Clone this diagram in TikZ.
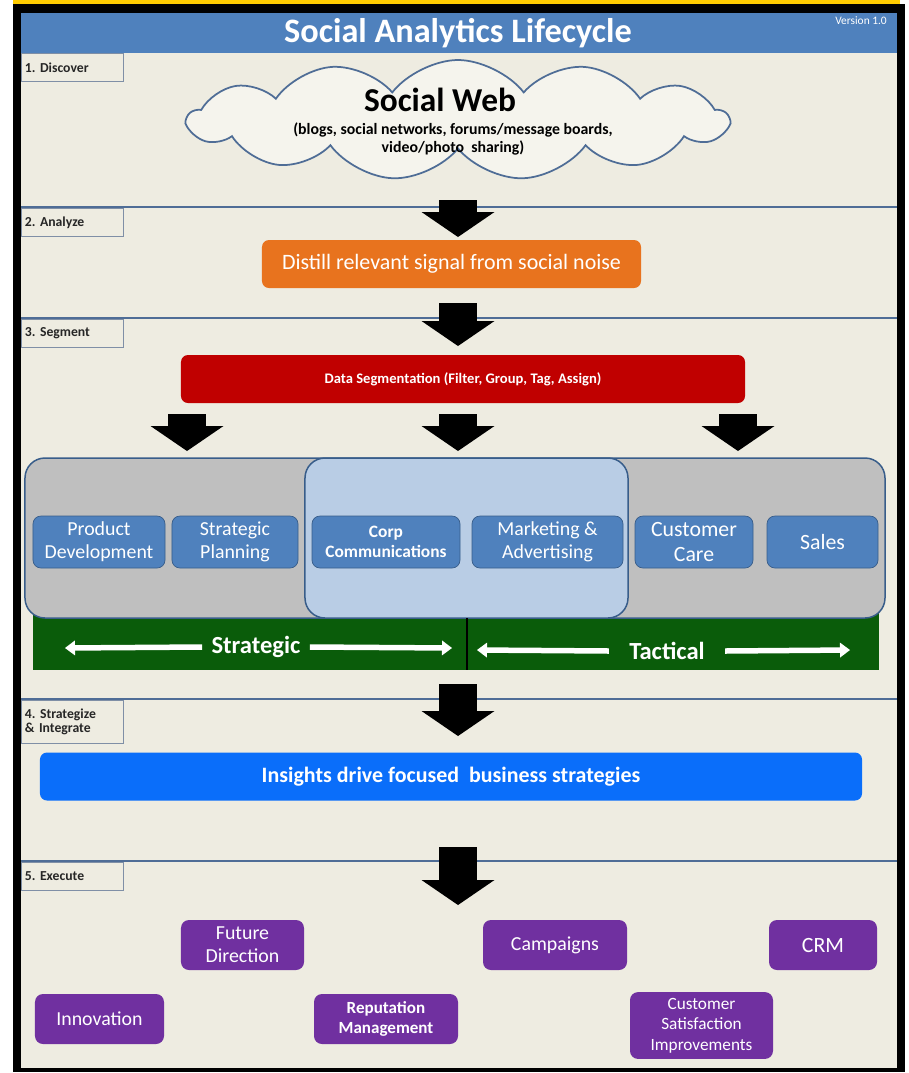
\documentclass[tikz,border=0pt]{standalone}
\usepackage{fontspec}
\setmainfont{Carlito}
\usetikzlibrary{shapes.symbols,arrows.meta}

\definecolor{titleblue}{HTML}{4F81BD}
\definecolor{bgbeige}{HTML}{EEECE1}
\definecolor{sectline}{HTML}{4F6D96}
\definecolor{labelline}{HTML}{7F8FA6}
\definecolor{distillorange}{HTML}{E8731E}
\definecolor{segred}{HTML}{C00000}
\definecolor{groupgray}{HTML}{BFBFBF}
\definecolor{grouplight}{HTML}{B9CDE5}
\definecolor{deptblue}{HTML}{4F81BD}
\definecolor{deptline}{HTML}{385D8A}
\definecolor{bargreen}{HTML}{0A5C0A}
\definecolor{insightblue}{HTML}{0A6EFA}
\definecolor{execpurple}{HTML}{7030A0}
\definecolor{goldline}{HTML}{FFCC00}

\tikzset{
  steplabel/.style={draw=labelline, fill=bgbeige, anchor=north west, minimum width=20.4mm,
    minimum height=5.6mm, text width=19mm, inner xsep=0.7mm, align=left,
    font=\fontsize{7.8}{8.6}\selectfont\bfseries, text=black!85},
  bigarrow/.style={line width=7.6mm, black, -{Triangle[length=5mm,width=14.6mm,line width=0pt]}},
  deptbox/.style={draw=deptline, fill=deptblue, rounded corners=1.6mm, minimum height=10.4mm,
    text=white, align=center, font=\fontsize{11.3}{13}\selectfont},
  execbox/.style={fill=execpurple, rounded corners=1.6mm, minimum height=10mm,
    text=white, align=center, font=\fontsize{11.3}{13}\selectfont},
  widebar/.style={rounded corners=1.4mm, text=white, align=center},
  whitearrow/.style={white, line width=1.1mm, -{Triangle[length=2mm,width=3mm,line width=0pt]}},
}

\begin{document}
\begin{tikzpicture}[x=0.2mm, y=-0.2mm]
    \useasboundingbox (0,0) rectangle (909,1073);
    \fill[white] (0,0) rectangle (909,1073);

    % --- frame ---
    \fill[goldline] (13,0) rectangle (900,4);
    \fill[black] (13,4) rectangle (905,1072);
    \fill[bgbeige] (21,13) rectangle (897,1068);
    \fill[titleblue] (21,13) rectangle (897,53);
    \node[text=white, font=\fontsize{19.5}{22}\selectfont\bfseries] (title) at (458,33) {Social Analytics Lifecycle};
    \node[text=white, font=\fontsize{6.5}{7}\selectfont, anchor=east] (version) at (893,21) {Version 1.0};

    % --- section rules and labels ---
    \foreach \y in {207,318,699,861}{
        \draw[sectline, line width=0.4mm] (21,\y) -- (897,\y);
    }
    \node[steplabel] (lab1) at (21,53) {1.\ Discover};
    \node[steplabel] (lab2) at (21,208) {2.\ Analyze};
    \node[steplabel] (lab3) at (21,319) {3.\ Segment};
    \node[steplabel, minimum height=8.6mm] (lab4) at (21,700) {4.\ Strategize\\[-1pt]\& Integrate};
    \node[steplabel] (lab5) at (21,862) {5.\ Execute};

    % --- 1. Discover ---
    \node[cloud, cloud puffs=13, cloud puff arc=105, aspect=4.5, draw=sectline, line width=0.35mm,
          fill=bgbeige!60!white, minimum width=108mm, minimum height=24mm, inner sep=0pt] (web) at (458,120) {};
    \node[font=\fontsize{19}{21}\selectfont\bfseries] (webtitle) at (440,100) {Social Web};
    \node[font=\fontsize{9}{10.5}\selectfont\bfseries, align=center] (websub) at (453,139)
          {(blogs, social networks, forums/message boards,\\video/photo\ \ sharing)};

    % --- 2. Analyze ---
    \node[widebar, fill=distillorange, minimum width=75.8mm, minimum height=9.6mm,
          font=\fontsize{12.5}{14}\selectfont] (distill) at (451.5,264) {Distill relevant signal from social noise};

    % --- 3. Segment ---
    \node[widebar, fill=segred, minimum width=112.8mm, minimum height=9.6mm,
          font=\fontsize{8.3}{10}\selectfont\bfseries] (seg) at (463,379) {Data Segmentation (Filter, Group,\ Tag, Assign)};

    \fill[bargreen] (33,612) rectangle (879,670);
    \node[draw=deptline, fill=groupgray, rounded corners=4mm, minimum width=172mm, minimum height=32mm, line width=0.3mm] (group) at (455,538) {};
    \node[draw=deptline, fill=grouplight, rounded corners=4mm, minimum width=64.6mm, minimum height=32mm, line width=0.3mm] (corp) at (466.5,538) {};
    \draw[black, line width=0.3mm] (467,618) -- (467,670);

    \foreach \nm/\x/\w/\txt in {pd/99/26.4/{Product\\Development}, sp/235/25.2/{Strategic\\Planning},
        ma/547.5/30.2/{Marketing \&\\Advertising}}{
        \node[deptbox, minimum width=\w mm] (\nm) at (\x,542) {\txt};
    }
    \node[deptbox, minimum width=23.6mm, font=\fontsize{12.4}{14}\selectfont] (cc) at (694,542) {Customer\\Care};
    \node[deptbox, minimum width=22.2mm, font=\fontsize{12.4}{14}\selectfont] (sales) at (822.5,542) {Sales};
    \node[deptbox, minimum width=29.6mm, font=\fontsize{9.9}{11.5}\selectfont\bfseries] (comms) at (386,542) {Corp\\Communications};

    \node[text=white, font=\fontsize{14}{16}\selectfont\bfseries, inner xsep=1.8mm] (strat) at (256,647) {Strategic};
    \node[text=white, font=\fontsize{14}{16}\selectfont\bfseries, inner xsep=4mm] (tact) at (667,651) {Tactical};
    \coordinate (sl) at (65,648);
    \coordinate (sr) at (452,648);
    \coordinate (tl) at (477,650);
    \coordinate (tr) at (850,650);
    \draw[whitearrow] (strat.west) -- (sl);
    \draw[whitearrow] (strat.east) -- (sr);
    \draw[whitearrow] (tact.west) -- (tl);
    \draw[whitearrow] (tact.east) -- (tr);

    % --- 4. Strategize & Integrate ---
    \node[widebar, fill=insightblue, minimum width=164.4mm, minimum height=9.6mm,
          font=\fontsize{12.5}{14}\selectfont\bfseries] (insight) at (451,776.5) {Insights drive focused\ \ business strategies};

    % --- 5. Execute ---
    \foreach \nm/\x/\y/\w/\txt in {future/242.5/945/24.6/{Future\\Direction}, camp/555/945/28.8/{Campaigns},
        innov/99.5/1019/25.8/{Innovation}}{
        \node[execbox, minimum width=\w mm] (\nm) at (\x,\y) {\txt};
    }
    \node[execbox, minimum width=21.6mm, font=\fontsize{12.4}{14}\selectfont] (crm) at (823,945) {CRM};
    \node[execbox, minimum width=28.8mm, font=\fontsize{9.7}{11.5}\selectfont\bfseries] (repu) at (386,1019) {Reputation\\Management};
    \node[execbox, minimum width=28.6mm, minimum height=12.6mm, font=\fontsize{9.8}{11.7}\selectfont] (csat) at (701.5,1025.5) {Customer\\Satisfaction\\Improvements};

    % --- block arrows ---
    \foreach \nm/\x/\ya/\yb in {a1/458/200/237, a2/458/303/346, a3/187/414/451, a4/458/414/451,
        a5/738/414/451, a6/458/684/736, a7/458/847/905}{
        \coordinate (\nm s) at (\x,\ya);
        \coordinate (\nm e) at (\x,\yb);
        \draw[bigarrow] (\nm s) -- (\nm e);
    }
\end{tikzpicture}
\end{document}
